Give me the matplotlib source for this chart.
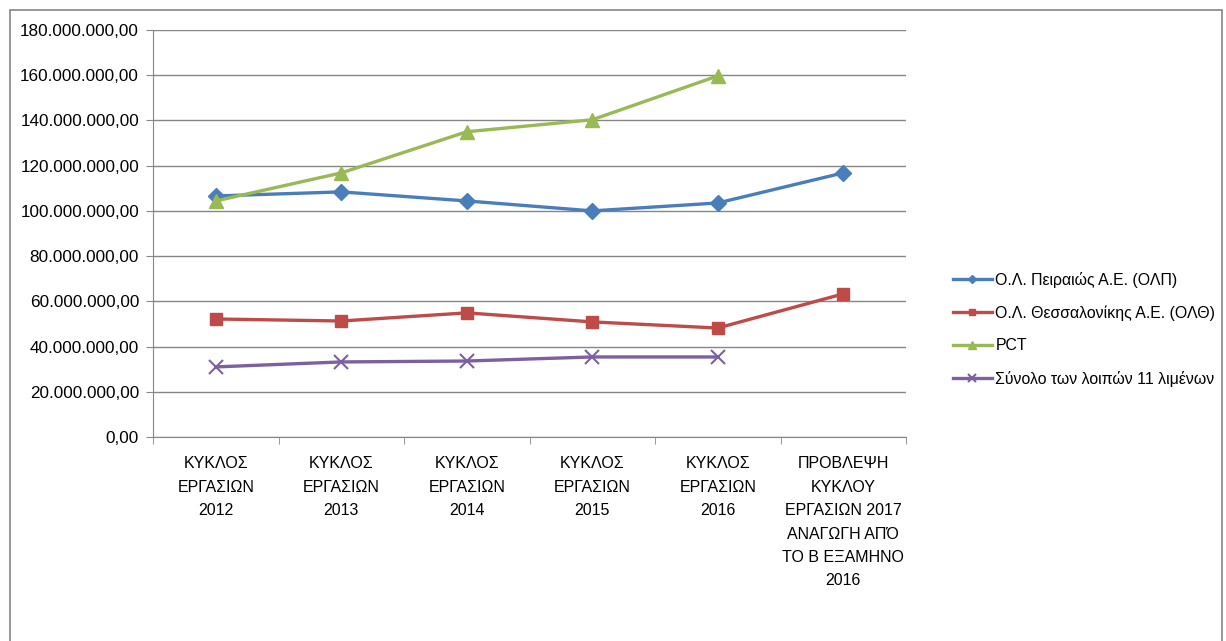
import matplotlib.pyplot as plt
from matplotlib.patches import Rectangle
from matplotlib.ticker import FuncFormatter

# categories (x axis)
categories = [
    'ΚΥΚΛΟΣ\nΕΡΓΑΣΙΩΝ\n2012',
    'ΚΥΚΛΟΣ\nΕΡΓΑΣΙΩΝ\n2013',
    'ΚΥΚΛΟΣ\nΕΡΓΑΣΙΩΝ\n2014',
    'ΚΥΚΛΟΣ\nΕΡΓΑΣΙΩΝ\n2015',
    'ΚΥΚΛΟΣ\nΕΡΓΑΣΙΩΝ\n2016',
    'ΠΡΟΒΛΕΨΗ\nΚΥΚΛΟΥ\nΕΡΓΑΣΙΩΝ 2017\nΑΝΑΓΩΓΗ ΑΠΌ\nΤΟ Β ΕΞΑΜΗΝΟ\n2016',
]

# series values (euro)
olp = [106.6e6, 108.4e6, 104.4e6, 100.0e6, 103.5e6, 116.8e6]
olth = [52.2e6, 51.3e6, 54.9e6, 50.9e6, 48.2e6, 63.3e6]
pct = [104.4e6, 116.8e6, 135.0e6, 140.3e6, 159.7e6]
others = [31.0e6, 33.2e6, 33.6e6, 35.4e6, 35.4e6]

labels = ['Ο.Λ. Πειραιώς Α.Ε. (ΟΛΠ)', 'Ο.Λ. Θεσσαλονίκης Α.Ε. (ΟΛΘ)', 'PCT',
          'Σύνολο των λοιπών 11 λιμένων']

plt.rcParams['font.family'] = ['Liberation Sans', 'DejaVu Sans']

fig = plt.figure(figsize=(12.26, 6.41), dpi=100)
# outer chart frame
fig.patches.append(Rectangle((10 / 1226, -0.1), 1212 / 1226, 1 - 10 / 641 + 0.1,
                             transform=fig.transFigure, fill=False,
                             edgecolor='#868686', linewidth=1.2))

ax = fig.add_axes([153 / 1226, 1 - 437 / 641, 753 / 1226, 407 / 641])

x = list(range(len(categories)))
ax.plot(x, olp, color='#4A7EBB', lw=2.4, marker='D', ms=8, label=labels[0])
ax.plot(x, olth, color='#BE4B48', lw=2.4, marker='s', ms=9, label=labels[1])
ax.plot(x[:len(pct)], pct, color='#98B954', lw=2.4, marker='^', ms=10, label=labels[2])
ax.plot(x[:len(others)], others, color='#7D60A0', lw=2.4, marker='x', ms=10,
        mew=1.5, label=labels[3])

ax.set_xlim(-0.5, len(categories) - 0.5)
ax.set_ylim(0, 180e6)
ax.set_yticks([i * 20e6 for i in range(10)])
ax.yaxis.set_major_formatter(FuncFormatter(
    lambda v, p: f'{v:,.2f}'.replace(',', 'X').replace('.', ',').replace('X', '.')))
ax.grid(axis='y', color='#868686', lw=1)
ax.set_axisbelow(True)

ax.set_xticks(x)
ax.set_xticklabels(categories, fontsize=11.5, linespacing=1.7, va='top')
ax.set_xticks([i + 0.5 for i in range(-1, len(categories))], minor=True)
ax.tick_params(axis='x', which='major', length=0, pad=14)
ax.tick_params(axis='x', which='minor', length=5, color='#868686')
ax.tick_params(axis='y', length=5, color='#868686', labelsize=12.3, pad=5)

for s in ['top', 'right']:
    ax.spines[s].set_visible(False)
for s in ['left', 'bottom']:
    ax.spines[s].set_color('#868686')

ax.legend(loc='center left', bbox_to_anchor=(1.043, 0.265), frameon=False,
          fontsize=11.4, handlelength=2.5, labelspacing=1.1, handletextpad=0.2,
          markerscale=0.55)

plt.savefig('out.png', dpi=100)
